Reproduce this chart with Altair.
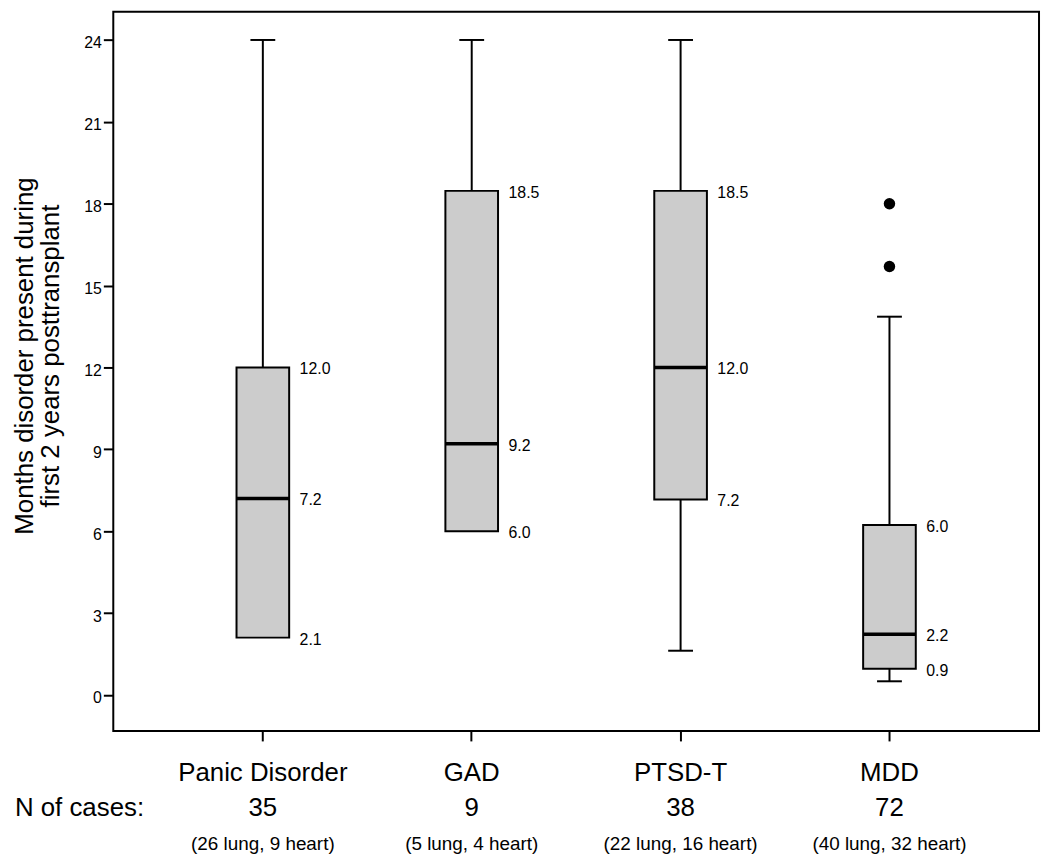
import altair as alt
import pandas as pd

categories = ["Panic Disorder", "GAD", "PTSD-T", "MDD"]
n_cases = ["35", "9", "38", "72"]
breakdown = ["(26 lung, 9 heart)", "(5 lung, 4 heart)", "(22 lung, 16 heart)", "(40 lung, 32 heart)"]
whisker_low = [2.1, 6.0, 1.62, 0.5]
q1 = [2.1, 6.0, 7.16, 0.96]
median = [7.2, 9.2, 12.0, 2.22]
q3 = [12.0, 18.47, 18.47, 6.23]
whisker_high = [24.0, 24.0, 24.0, 13.86]
q1_label = ["2.1", "6.0", "7.2", "0.9"]
median_label = ["7.2", "9.2", "12.0", "2.2"]
q3_label = ["12.0", "18.5", "18.5", "6.0"]
outlier_cat = ["MDD", "MDD"]
outlier_val = [18.0, 15.7]
y_ticks = [0, 3, 6, 9, 12, 15, 18, 21, 24]
y_title = ["Months disorder present during", "first 2 years posttransplant"]
row_label = "N of cases:"

FONT = "Liberation Sans"

box = pd.DataFrame(dict(cat=categories, lo=whisker_low, q1=q1, med=median,
                        q3=q3, hi=whisker_high, n=n_cases, bd=breakdown))
low = box[box["lo"] < box["q1"]]
labels = pd.DataFrame({"cat": categories * 3,
                       "val": q1 + median + q3,
                       "txt": q1_label + median_label + q3_label})
outl = pd.DataFrame({"cat": outlier_cat, "val": outlier_val})
rowdf = pd.DataFrame({"t": [row_label]})

xscale = alt.Scale(type="band", domain=categories, paddingInner=0, paddingOuter=0.216)
xaxis = alt.Axis(title=None, labelAngle=0, labelFontSize=26, labelFont=FONT,
                 labelColor="black", labelBaseline="alphabetic", labelPadding=40,
                 tickSize=10, tickWidth=2, tickColor="black", domain=False, grid=False)


def X():
    return alt.X("cat:N", sort=categories, scale=xscale, axis=xaxis)


yscale = alt.Scale(domain=[-1.321, 25.03], nice=False, zero=False)
yaxis = alt.Axis(values=y_ticks, title=y_title, titleFontSize=26, titleFont=FONT,
                 titleFontWeight="normal", titleColor="black", titleAngle=270,
                 titleAlign="center", titleBaseline="middle", titleX=-89, titleY=346,
                 titleLineHeight=25.5, labelFontSize=16, labelFont=FONT, labelColor="black",
                 labelPadding=2, labelOffset=3, tickSize=10, tickWidth=2,
                 tickColor="black", domain=False, grid=False, format="d")


def Y(f):
    return alt.Y(f + ":Q", scale=yscale, axis=yaxis)


base = alt.Chart(box)

upper_whisker = base.mark_rule(color="black", strokeWidth=2).encode(
    x=X(), y=Y("q3"), y2="hi")
upper_cap = base.mark_tick(color="black", size=25, thickness=2, opacity=1).encode(
    x=X(), y=Y("hi"))
lower_whisker = alt.Chart(low).mark_rule(color="black", strokeWidth=2).encode(
    x=X(), y=Y("lo"), y2="q1")
lower_cap = alt.Chart(low).mark_tick(color="black", size=25, thickness=2, opacity=1).encode(
    x=X(), y=Y("lo"))
boxes = base.mark_bar(size=53, fill="#cccccc", stroke="black", strokeWidth=2).encode(
    x=X(), y=Y("q1"), y2="q3")
med = base.mark_tick(color="black", size=53, thickness=3.5, opacity=1).encode(
    x=X(), y=Y("med"))
val_text = alt.Chart(labels).mark_text(align="left", baseline="middle", dx=37, dy=2,
                                       fontSize=16, font=FONT, color="black").encode(
    x=X(), y=Y("val"), text="txt:N")
outliers = alt.Chart(outl).mark_circle(size=133, color="black", opacity=1).encode(
    x=X(), y=Y("val"))
n_text = base.mark_text(baseline="alphabetic", fontSize=26, font=FONT, color="black").encode(
    x=X(), y=alt.value(810), text="n:N")
bd_text = base.mark_text(baseline="alphabetic", fontSize=19, font=FONT, color="black").encode(
    x=X(), y=alt.value(844), text="bd:N")
row_text = alt.Chart(rowdf).mark_text(align="left", baseline="alphabetic", fontSize=26,
                                      font=FONT, color="black").encode(
    x=alt.value(-99), y=alt.value(810), text="t:N")

chart = alt.layer(
    upper_whisker, lower_whisker, boxes, upper_cap, lower_cap, med, val_text,
    outliers, n_text, bd_text, row_text
).properties(
    width=932, height=724,
    autosize=alt.AutoSizeParams(type="none"),
    padding={"left": 106, "top": 1, "right": 3, "bottom": 126},
).configure_view(stroke="black", strokeWidth=2)

chart.save("out.html", embed_options={"renderer": "svg", "actions": False})
